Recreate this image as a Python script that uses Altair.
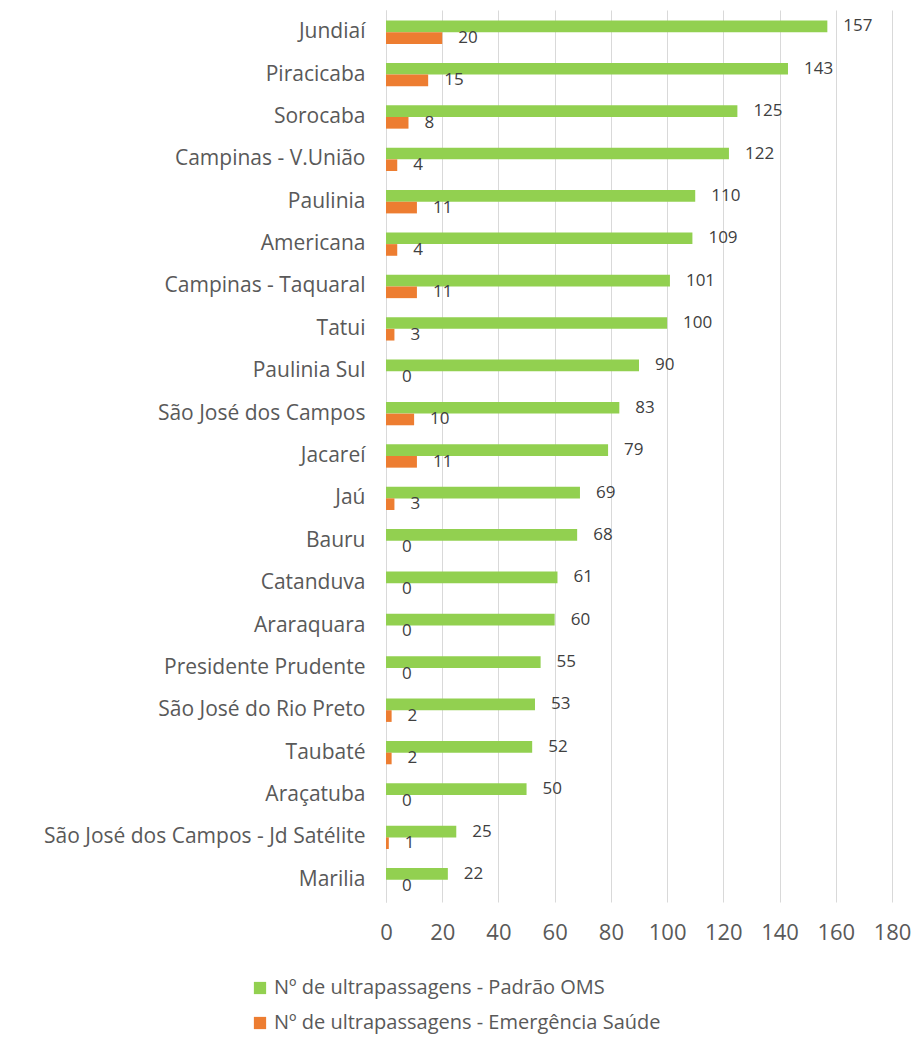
import altair as alt
import pandas as pd

cities = ["Jundiaí", "Piracicaba", "Sorocaba", "Campinas - V.União", "Paulinia",
          "Americana", "Campinas - Taquaral", "Tatui", "Paulinia Sul",
          "São José dos Campos", "Jacareí", "Jaú", "Bauru", "Catanduva",
          "Araraquara", "Presidente Prudente", "São José do Rio Preto", "Taubaté",
          "Araçatuba", "São José dos Campos - Jd Satélite", "Marilia"]
oms = [157, 143, 125, 122, 110, 109, 101, 100, 90, 83, 79, 69, 68, 61, 60, 55, 53, 52, 50, 25, 22]
emerg = [20, 15, 8, 4, 11, 4, 11, 3, 0, 10, 11, 3, 0, 0, 0, 0, 2, 2, 0, 1, 0]
series = ["Nº de ultrapassagens - Padrão OMS", "Nº de ultrapassagens - Emergência Saúde"]
colors = ["#92D050", "#ED7D31"]

rows = []
for c, a, b in zip(cities, oms, emerg):
    rows.append({"city": c, "serie": series[0], "value": a})
    rows.append({"city": c, "serie": series[1], "value": b})
df = pd.DataFrame(rows)

FONT = "Open Sans"

y_enc = alt.Y("city:N", sort=cities,
              scale=alt.Scale(paddingInner=0.45, paddingOuter=0.25),
              axis=alt.Axis(title=None, ticks=False, domain=True, domainColor="#D9D9D9",
                            labelFontSize=21, labelColor="#595959", labelPadding=21,
                            labelFont=FONT, labelLimit=500))
yoff = alt.YOffset("serie:N", sort=series)

bars = alt.Chart(df).mark_bar().encode(
    x=alt.X("value:Q", scale=alt.Scale(domain=[0, 180], nice=False),
            axis=alt.Axis(title=None, values=list(range(0, 181, 20)), ticks=False, domain=False,
                          grid=True, gridColor="#D9D9D9", labelFontSize=22,
                          labelColor="#595959", labelPadding=20, labelFont=FONT,
                          labelFlush=False, labelOverlap=False)),
    y=y_enc,
    yOffset=yoff,
    color=alt.Color("serie:N", sort=series,
                    scale=alt.Scale(domain=series, range=colors),
                    legend=alt.Legend(title=None, orient="none", legendX=-136, legendY=968,
                                      direction="vertical", symbolType="square", symbolSize=150,
                                      labelFontSize=20, labelColor="#595959", labelFont=FONT,
                                      labelLimit=0, rowPadding=15, symbolStrokeWidth=0,
                                      labelOffset=4, padding=0)),
)

labels = alt.Chart(df).mark_text(align="left", baseline="middle", dx=16, fontSize=17,
                                 color="#404040", font=FONT).encode(
    x="value:Q",
    y=alt.Y("city:N", sort=cities),
    yOffset=yoff,
    text="value:Q",
)

chart = alt.layer(bars, labels).properties(
    width=506, height=892,
    autosize=alt.AutoSizeParams(type="none"),
    padding={"left": 378, "top": 2, "right": 20, "bottom": 139},
).configure_view(stroke=None)

chart.save("out.html", embed_options={"renderer": "svg", "actions": False})
